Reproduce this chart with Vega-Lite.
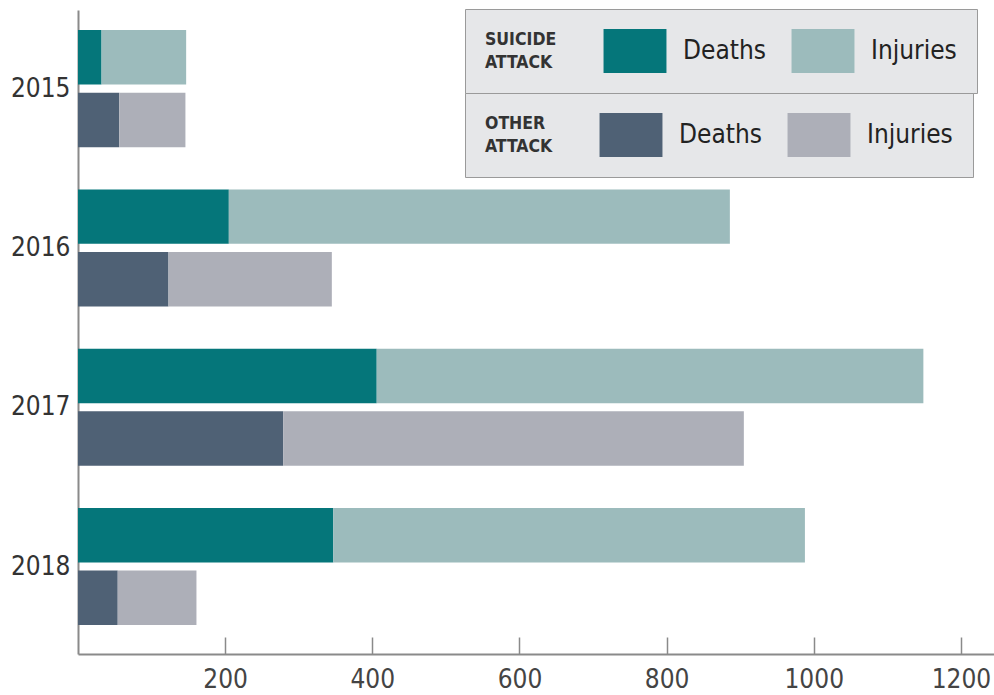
{
  "$schema": "https://vega.github.io/schema/vega-lite/v6.json",
  "autosize": {"type": "none"},
  "width": 916,
  "height": 644,
  "padding": {"left": 78, "top": 10, "right": 0, "bottom": 41},
  "background": "white",
  "config": {
    "view": {"stroke": null},
    "font": "DejaVu Sans Condensed, DejaVu Sans, sans-serif"
  },
  "data": {
    "values": [
      {"year": "2015", "attack": "Suicide", "measure": "Deaths", "value": 32},
      {"year": "2015", "attack": "Suicide", "measure": "Injuries", "value": 115},
      {"year": "2015", "attack": "Other", "measure": "Deaths", "value": 56},
      {"year": "2015", "attack": "Other", "measure": "Injuries", "value": 90},
      {"year": "2016", "attack": "Suicide", "measure": "Deaths", "value": 205},
      {"year": "2016", "attack": "Suicide", "measure": "Injuries", "value": 681},
      {"year": "2016", "attack": "Other", "measure": "Deaths", "value": 123},
      {"year": "2016", "attack": "Other", "measure": "Injuries", "value": 222},
      {"year": "2017", "attack": "Suicide", "measure": "Deaths", "value": 406},
      {"year": "2017", "attack": "Suicide", "measure": "Injuries", "value": 743},
      {"year": "2017", "attack": "Other", "measure": "Deaths", "value": 279},
      {"year": "2017", "attack": "Other", "measure": "Injuries", "value": 626},
      {"year": "2018", "attack": "Suicide", "measure": "Deaths", "value": 347},
      {"year": "2018", "attack": "Suicide", "measure": "Injuries", "value": 641},
      {"year": "2018", "attack": "Other", "measure": "Deaths", "value": 54},
      {"year": "2018", "attack": "Other", "measure": "Injuries", "value": 107}
    ]
  },
  "encoding": {
    "y": {
      "field": "year", "type": "nominal", "title": null,
      "scale": {"paddingInner": 0.265, "paddingOuter": 0.154, "align": 0.41},
      "axis": {
        "ticks": false, "domainColor": "#8a8a8a", "domainWidth": 2,
        "labelFontSize": 26, "labelColor": "#333333", "labelPadding": 8
      }
    },
    "yOffset": {
      "field": "attack", "type": "nominal",
      "scale": {"domain": ["Suicide", "Other"], "paddingInner": 0.13, "paddingOuter": 0}
    },
    "x": {
      "field": "value", "type": "quantitative", "stack": "zero", "title": null,
      "scale": {"domain": [0, 1245], "nice": false},
      "axis": {
        "values": [200, 400, 600, 800, 1000, 1200], "format": "d", "grid": false,
        "tickSize": -17, "tickColor": "#8a8a8a", "tickWidth": 1.5,
        "domainColor": "#8a8a8a", "domainWidth": 2,
        "labelFontSize": 26, "labelColor": "#444444", "labelPadding": 29
      }
    },
    "order": {"field": "measure", "sort": "ascending"}
  },
  "layer": [
    {
      "transform": [{"filter": "datum.attack === 'Suicide'"}],
      "mark": {"type": "bar"},
      "encoding": {
        "color": {
          "field": "measure", "type": "nominal",
          "scale": {"domain": ["Deaths", "Injuries"], "range": ["#05767A", "#9CBBBC"]},
          "legend": {
            "title": ["SUICIDE", "ATTACK"],
            "orient": "none", "legendX": 387, "legendY": -1,
            "direction": "horizontal", "columns": 2,
            "titleOrient": "left", "titleBaseline": "middle",
            "titleFontSize": 17.5, "titleFontWeight": "bold", "titleColor": "#333333", "titlePadding": 56,
            "titleLineHeight": 23,
            "symbolType": "M-1.43,-1H1.43V1H-1.43Z", "symbolSize": 1936, "symbolStrokeWidth": 0, "symbolOpacity": 1,
            "labelFontSize": 26, "labelColor": "#222222", "labelOffset": 26,
            "columnPadding": 25, "padding": 20,
            "fillColor": "#E6E7E9", "strokeColor": "#9a9a9a"
          }
        }
      }
    },
    {
      "transform": [{"filter": "datum.attack === 'Other'"}],
      "mark": {"type": "bar"},
      "encoding": {
        "color": {
          "field": "measure", "type": "nominal",
          "scale": {"domain": ["Deaths", "Injuries"], "range": ["#4F6175", "#ADAFB8"]},
          "legend": {
            "title": ["OTHER", "ATTACK"],
            "orient": "none", "legendX": 387, "legendY": 83,
            "direction": "horizontal", "columns": 2,
            "titleOrient": "left", "titleBaseline": "middle",
            "titleFontSize": 17.5, "titleFontWeight": "bold", "titleColor": "#333333", "titlePadding": 56,
            "titleLineHeight": 23,
            "symbolType": "M-1.43,-1H1.43V1H-1.43Z", "symbolSize": 1936, "symbolStrokeWidth": 0, "symbolOpacity": 1,
            "labelFontSize": 26, "labelColor": "#222222", "labelOffset": 26,
            "columnPadding": 25, "padding": 20,
            "fillColor": "#E6E7E9", "strokeColor": "#9a9a9a"
          }
        }
      }
    }
  ],
  "resolve": {"scale": {"color": "independent"}, "legend": {"color": "independent"}}
}
